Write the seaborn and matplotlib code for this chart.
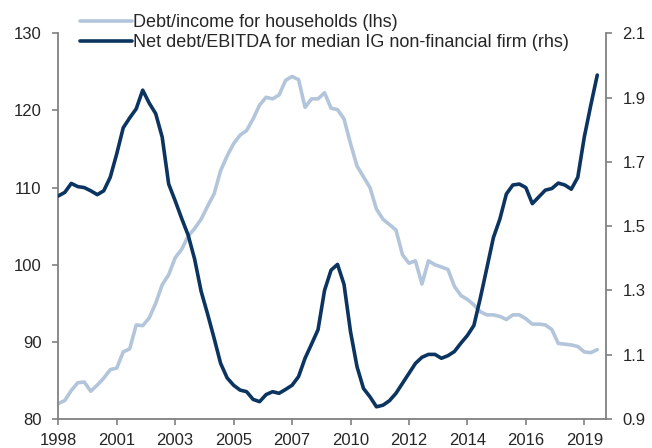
import pandas as pd
import seaborn as sns
import matplotlib.pyplot as plt


# quarterly, 1998Q4 .. 2019Q3
quarters = pd.period_range('1998Q4', periods=84, freq='Q').astype(str)

households = [82.0, 82.4, 83.7, 84.7, 84.8, 83.6, 84.4, 85.3, 86.4, 86.6,
              88.7, 89.1, 92.2, 92.1, 93.1, 95.0, 97.4, 98.7, 100.9, 102.0,
              103.7, 104.7, 105.9, 107.6, 109.2, 112.2, 114.1, 115.7, 116.8, 117.4,
              118.9, 120.7, 121.7, 121.5, 122.0, 123.9, 124.4, 124.0, 120.4, 121.5,
              121.5, 122.3, 120.3, 120.1, 118.9, 115.7, 112.8, 111.4, 110.0, 107.2,
              105.9, 105.2, 104.5, 101.3, 100.2, 100.5, 97.5, 100.5, 100.0, 99.7,
              99.4, 97.2, 96.0, 95.5, 94.8, 93.9, 93.5, 93.5, 93.3, 92.9,
              93.5, 93.5, 93.0, 92.3, 92.3, 92.2, 91.6, 89.8, 89.7, 89.6,
              89.4, 88.7, 88.6, 89.0]

net_debt_ebitda = [1.594, 1.605, 1.633, 1.623, 1.620, 1.610, 1.598, 1.610, 1.652, 1.725,
                   1.806, 1.837, 1.865, 1.923, 1.883, 1.850, 1.777, 1.631, 1.579, 1.524,
                   1.472, 1.397, 1.297, 1.226, 1.151, 1.073, 1.028, 1.005, 0.990, 0.985,
                   0.961, 0.954, 0.976, 0.985, 0.980, 0.992, 1.005, 1.032, 1.089, 1.133,
                   1.178, 1.300, 1.363, 1.381, 1.319, 1.172, 1.063, 0.995, 0.969, 0.938,
                   0.943, 0.957, 0.980, 1.011, 1.042, 1.073, 1.092, 1.101, 1.101, 1.089,
                   1.097, 1.110, 1.136, 1.160, 1.191, 1.277, 1.370, 1.464, 1.522, 1.600,
                   1.628, 1.631, 1.620, 1.570, 1.591, 1.612, 1.617, 1.634, 1.628, 1.615,
                   1.652, 1.777, 1.876, 1.970]

tick_labels = ['1998', '2001', '2003', '2005', '2007', '2010', '2012', '2014', '2016', '2019']
left_ticks = [80, 90, 100, 110, 120, 130]
right_ticks = [0.9, 1.1, 1.3, 1.5, 1.7, 1.9, 2.1]

label_hh = 'Debt/income for households (lhs)'
label_nd = 'Net debt/EBITDA for median IG non-financial firm (rhs)'

df = pd.DataFrame({'quarter': quarters,
                   'households': households,
                   'net_debt': net_debt_ebitda})
df['pos'] = range(len(df))

sns.set_style("white")
plt.rcParams['font.family'] = ['Liberation Sans', 'DejaVu Sans']

light = '#b3c5db'
dark = '#0b3560'
grey = '#808080'

fig = plt.figure(figsize=(6.52, 4.48), dpi=100)
ax = fig.add_axes([0.0894, 0.0647, 0.8396, 0.861])
ax2 = ax.twinx()

sns.lineplot(data=df, x='pos', y='households', ax=ax, color=light, linewidth=2.6, label=label_hh, legend=False)
sns.lineplot(data=df, x='pos', y='net_debt', ax=ax2, color=dark, linewidth=2.6, label=label_nd, legend=False)

ax.set_xlim(0, 84.3)
ax.set_ylim(80, 130)
ax2.set_ylim(0.9, 2.1)

tick_pos = list(range(0, 82, 9))
ax.set_xticks(tick_pos)
ax.set_xticklabels(tick_labels)
ax.set_yticks(left_ticks)
ax.set_yticklabels([str(v) for v in left_ticks])
ax2.set_yticks(right_ticks)
ax2.set_yticklabels([f'{v:.1f}' for v in right_ticks])

ax.set_xlabel('')
ax.set_ylabel('')
ax2.set_ylabel('')

for a in (ax, ax2):
    a.spines['top'].set_visible(False)
    for s in ('left', 'right', 'bottom'):
        a.spines[s].set_color(grey)
        a.spines[s].set_linewidth(1.3)
    a.grid(False)
ax.spines['right'].set_visible(False)
ax2.spines['left'].set_visible(False)
ax2.spines['bottom'].set_visible(False)

ax.tick_params(axis='x', direction='out', length=4, width=1.2, color=grey, labelsize=12, pad=6, bottom=True)
ax.tick_params(axis='y', direction='out', length=4, width=1.2, color=grey, labelsize=12, pad=8, left=True)
ax2.tick_params(axis='y', direction='out', length=4, width=1.2, color=grey, labelsize=12, pad=8, right=True)

h1, l1 = ax.get_legend_handles_labels()
h2, l2 = ax2.get_legend_handles_labels()
fig.legend(h1 + h2, l1 + l2, loc='upper left', bbox_to_anchor=(0.1227, 0.969),
           frameon=False, fontsize=13, handlelength=2.9, handletextpad=0.02,
           labelspacing=0.17, borderpad=0, borderaxespad=0)

fig.savefig('out.png', dpi=100)
